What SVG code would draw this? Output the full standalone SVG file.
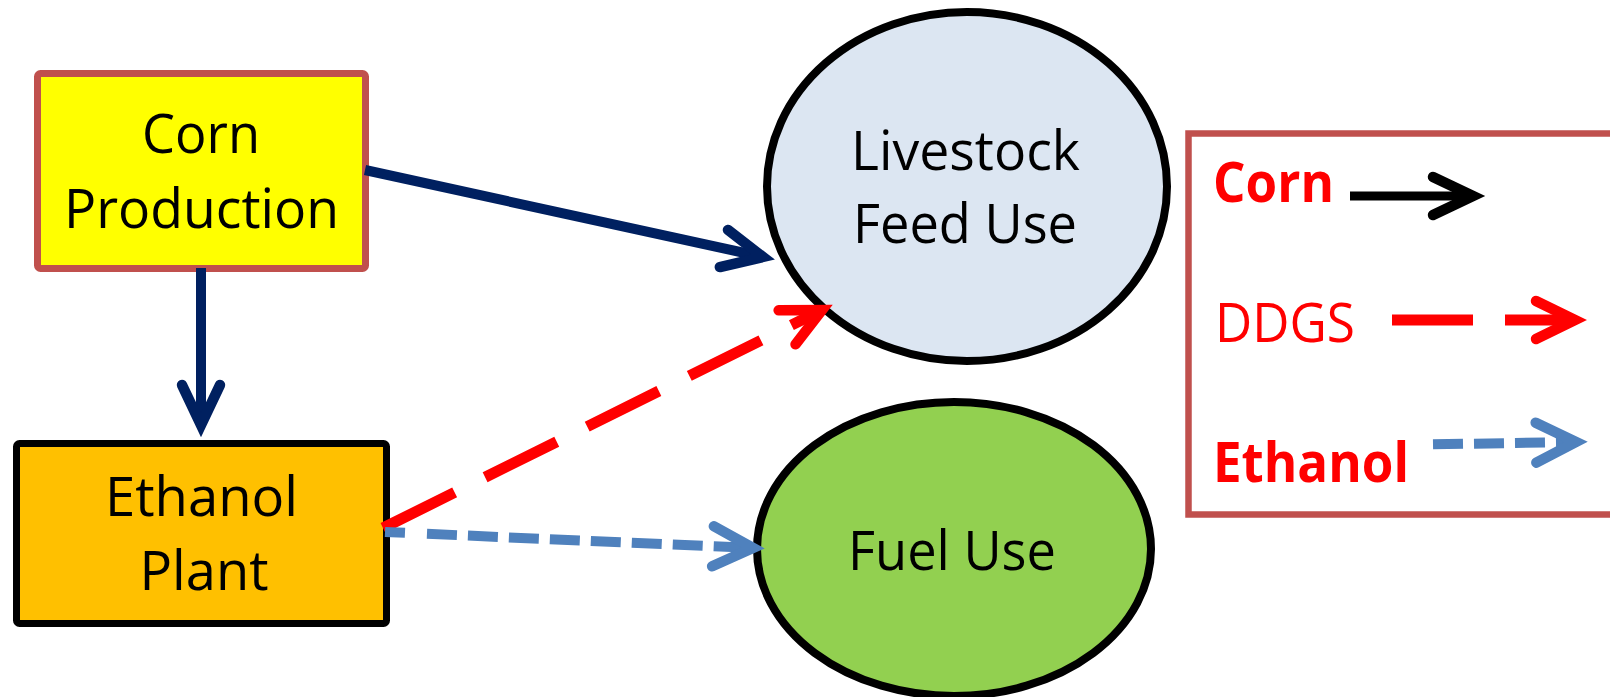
<svg xmlns="http://www.w3.org/2000/svg" width="1610" height="697" viewBox="0 0 1610 697">
<style>
.lbl{font-family:"Open Sans","Noto Sans","DejaVu Sans",sans-serif;font-size:55px;fill:#000;text-anchor:middle}
.leg{font-family:"Open Sans","Noto Sans","DejaVu Sans",sans-serif;font-size:55px;fill:#FF0000;text-anchor:middle}
.b{font-weight:bold}
.box{stroke-width:7}
.ell{stroke-width:8}
.navy{stroke:#002060;stroke-width:10;fill:none}
.red{stroke:#FF0000;stroke-width:11;fill:none}
.blue{stroke:#4F81BD;stroke-width:10;fill:none}
.blk{stroke:#000;stroke-width:9;fill:none}
.head{fill:none;stroke-linecap:round;stroke-linejoin:miter;stroke-miterlimit:10;stroke-width:10.5}
</style>
<defs>
<marker id="hNavy" markerUnits="userSpaceOnUse" viewBox="-60 -40 80 80" markerWidth="80" markerHeight="80" refX="0" refY="0" orient="auto"><path class="head" d="M-40,-19 L0,0 L-40,19" stroke="#002060"/></marker>
<marker id="hRed" markerUnits="userSpaceOnUse" viewBox="-60 -40 80 80" markerWidth="80" markerHeight="80" refX="0" refY="0" orient="auto"><path class="head" d="M-39,-19 L0,0 L-39,19" stroke="#FF0000" stroke-width="11"/></marker>
<marker id="hBlue" markerUnits="userSpaceOnUse" viewBox="-60 -40 80 80" markerWidth="80" markerHeight="80" refX="0" refY="0" orient="auto"><path class="head" d="M-40,-20 L0,0 L-40,20" stroke="#4F81BD" stroke-width="10"/></marker>
<marker id="hBlk" markerUnits="userSpaceOnUse" viewBox="-60 -40 80 80" markerWidth="80" markerHeight="80" refX="0" refY="0" orient="auto"><path class="head" d="M-40,-19 L0,0 L-40,19" stroke="#000"/></marker>
</defs>
<rect width="1610" height="697" fill="#fff"/>
<g id="corn-production">
<rect class="box" x="37.5" y="73.5" width="328" height="195" rx="3" fill="#FFFF00" stroke="#C0504D"/>
<text class="lbl" x="201" y="153" textLength="118" lengthAdjust="spacingAndGlyphs">Corn</text>
<text class="lbl" x="201.5" y="228" textLength="275" lengthAdjust="spacingAndGlyphs">Production</text>
</g>
<g id="ethanol-plant">
<rect class="box" x="16.5" y="443.5" width="370" height="180" rx="3" fill="#FFC000" stroke="#000"/>
<text class="lbl" x="201.5" y="516" textLength="193" lengthAdjust="spacingAndGlyphs">Ethanol</text>
<text class="lbl" x="204" y="590" textLength="129" lengthAdjust="spacingAndGlyphs">Plant</text>
</g>
<g id="livestock-feed-use">
<ellipse class="ell" cx="967" cy="186.5" rx="200" ry="174.5" fill="#DCE6F2" stroke="#000"/>
<text class="lbl" x="965.5" y="170" textLength="229" lengthAdjust="spacingAndGlyphs">Livestock</text>
<text class="lbl" x="965" y="243" textLength="224" lengthAdjust="spacingAndGlyphs">Feed Use</text>
</g>
<g id="fuel-use">
<ellipse class="ell" cx="954" cy="549" rx="197" ry="147" fill="#92D050" stroke="#000"/>
<text class="lbl" x="952" y="570" textLength="208" lengthAdjust="spacingAndGlyphs">Fuel Use</text>
</g>
<g id="legend">
<rect x="1188.5" y="133.5" width="440" height="381" fill="#fff" stroke="#C0504D" stroke-width="6.5"/>
<text class="leg b" x="1273.5" y="202" textLength="121" lengthAdjust="spacingAndGlyphs">Corn</text>
<text class="leg" x="1285" y="342" textLength="140" lengthAdjust="spacingAndGlyphs">DDGS</text>
<text class="leg b" x="1311" y="482" textLength="196" lengthAdjust="spacingAndGlyphs">Ethanol</text>
<line class="blk" x1="1350" y1="196" x2="1473" y2="196" marker-end="url(#hBlk)"/>
<line class="red" x1="1392" y1="320" x2="1575" y2="320" stroke-width="12" stroke-dasharray="81 32" marker-end="url(#hRed)"/>
<line class="blue" x1="1433" y1="444.3" x2="1576" y2="442" stroke-width="9" stroke-dasharray="30 11" marker-end="url(#hBlue)"/>
</g>
<g id="connectors">
<line class="navy" x1="365" y1="170" x2="763" y2="257" marker-end="url(#hNavy)"/>
<line class="navy" x1="201" y1="268" x2="201" y2="425" marker-end="url(#hNavy)"/>
<line class="red" x1="383" y1="528" x2="822" y2="310" stroke-dasharray="80 34" marker-end="url(#hRed)"/>
<line class="blue" x1="385" y1="532" x2="753" y2="548" stroke-dasharray="20 22 30 11 30 11 30 11 30 11 30 11 30 11 30 11 30 11 30 11" marker-end="url(#hBlue)"/>
</g>
</svg>
